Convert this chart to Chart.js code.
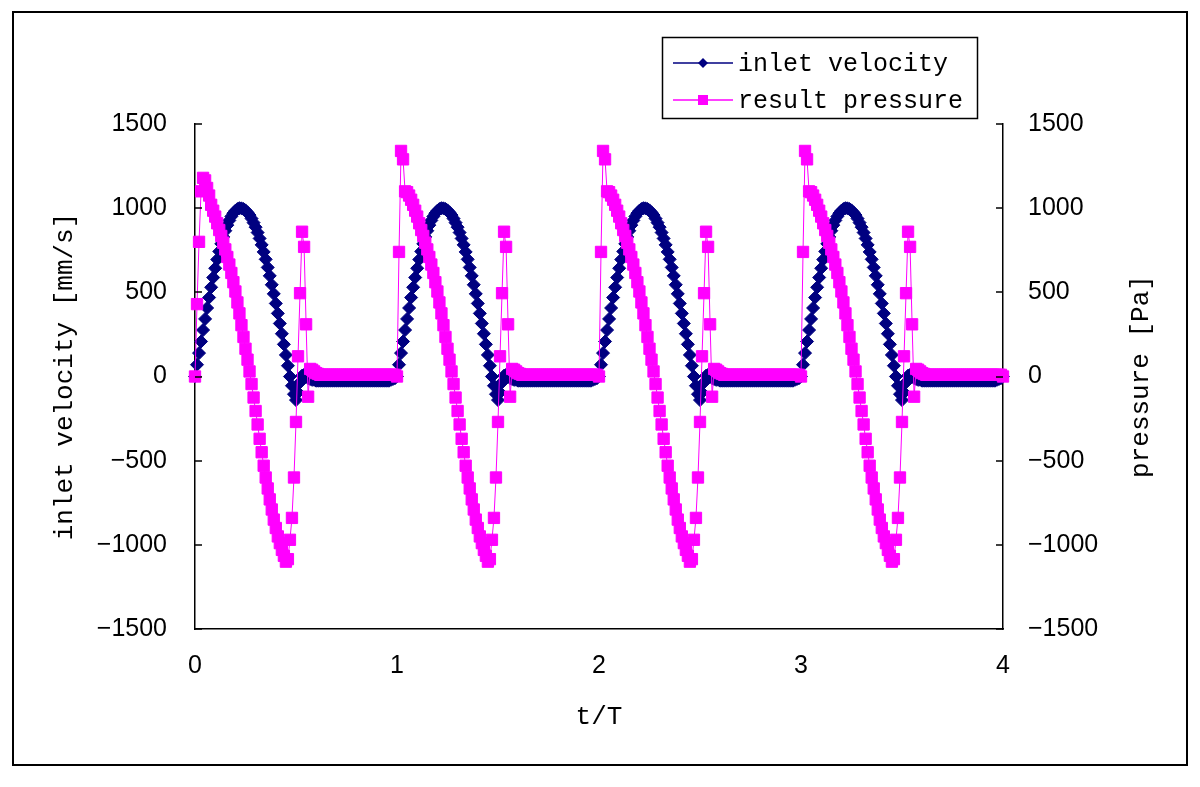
<!DOCTYPE html>
<html>
<head>
<meta charset="utf-8">
<script src="https://cdn.jsdelivr.net/npm/chart.js@4.4.0/dist/chart.umd.min.js"></script>
<style>
  html,body{margin:0;padding:0;background:#fff;}
  #wrap{width:1200px;height:787px;}
</style>
</head>
<body>
<div id="wrap"><canvas id="chart" width="1200" height="787"></canvas></div>
<script>
// === data: one period (step 0.01 t/T) ===
const periods = [0,1,2,3];
const step = 0.01;
const tickX = [0,1,2,3,4];
const tickLabelsX = ['0','1','2','3','4'];
const tickY = [-1500,-1000,-500,0,500,1000,1500];
const tickLabelsY = ['\u22121500','\u22121000','\u2212500','0','500','1000','1500'];

const velocityCycle = [
  0,70,139,208,276,342,407,469,530,588,
  643,695,743,788,829,866,899,927,951,970,
  985,995,1000,999,995,987,975,959,938,914,
  887,855,820,782,740,696,648,598,545,491,
  434,375,315,254,191,128,64,0,-55,-105,
  -140,-95,-35,5,10,0,-10,-15,-20,-20,
  -25,-25,-25,-25,-25,-25,-25,-25,-25,-25,
  -25,-25,-25,-25,-25,-25,-25,-25,-25,-25,
  -25,-25,-25,-25,-25,-25,-25,-25,-25,-25,
  -25,-25,-25,-25,-25,-25,-25,-20,-15,-10
];
const pressureCycle = [
  0,740,1340,1290,1100,1095,1075,1050,1020,985,
  950,910,870,835,795,755,710,665,615,560,
  505,440,375,305,235,165,100,30,-45,-125,
  -205,-285,-370,-450,-530,-600,-665,-730,-790,-850,
  -900,-950,-990,-1030,-1065,-1100,-1085,-970,-840,-600,
  -270,120,495,860,770,310,-120,45,40,30,
  20,15,10,10,10,10,10,10,10,10,
  10,10,10,10,10,10,10,10,10,10,
  10,10,10,10,10,10,10,10,10,10,
  10,10,10,10,10,10,10,10,10,10
];
// first period starts lower (no 1340 spike)
const pressureFirstHead = [0,430,800,1100,1180,1165,1120,1075];
const velocityEnd = 0;
const pressureEnd = 0;

// === build points ===
function buildSeries(cycle, head, endVal){
  const pts=[];
  periods.forEach(p=>{
    const vals=(p===0&&head)?head.concat(cycle.slice(head.length)):cycle;
    vals.forEach((v,i)=>pts.push({x:+(p+i*step).toFixed(2),y:v}));
  });
  pts.push({x:periods.length,y:endVal});
  return pts;
}
const velocityPts=buildSeries(velocityCycle,null,velocityEnd);
const pressurePts=buildSeries(pressureCycle,pressureFirstHead,pressureEnd);

const NAVY='#000080', PINK='#ff00ff';
const tickFont={family:'"Liberation Sans", Arial, sans-serif',size:25};
const monoFont='"Liberation Mono", "DejaVu Sans Mono", monospace';

// === frame, inner ticks, right title, legend ===
const decor={
  id:'decor',
  beforeDraw(c){
    const ctx=c.ctx;
    ctx.save();
    ctx.fillStyle='#fff';ctx.fillRect(0,0,c.width,c.height);
    ctx.strokeStyle='#000';ctx.lineWidth=2;
    ctx.strokeRect(13,12,1174,753);
    ctx.restore();
  },
  afterDraw(c){
    const ctx=c.ctx,a=c.chartArea;
    ctx.save();
    ctx.strokeStyle='#000';ctx.lineWidth=1.5;
    const yl=c.scales.y,yr=c.scales.y1;
    tickY.forEach(v=>{
      const pl=Math.round(yl.getPixelForValue(v));
      ctx.beginPath();ctx.moveTo(a.left,pl);ctx.lineTo(a.left+7,pl);ctx.stroke();
      const pr=Math.round(yr.getPixelForValue(v));
      ctx.beginPath();ctx.moveTo(a.right-7,pr);ctx.lineTo(a.right,pr);ctx.stroke();
    });
    // right axis title, reads bottom-to-top
    ctx.fillStyle='#000';
    ctx.font='26px '+monoFont;
    ctx.textAlign='center';ctx.textBaseline='middle';
    ctx.save();
    ctx.translate(1141,(a.top+a.bottom)/2);ctx.rotate(-Math.PI/2);
    ctx.fillText('pressure [Pa]',0,0);
    ctx.restore();

    // legend
    ctx.lineWidth=1.5;ctx.strokeStyle='#000';
    ctx.strokeRect(662.5,37.5,315,81);
    ctx.font='25px '+monoFont;ctx.textAlign='left';
    const rows=[{y:63,col:NAVY,style:'rectRot'},{y:100,col:PINK,style:'rect'}];
    c.data.datasets.forEach((ds,i)=>{
      const r=rows[i];
      ctx.strokeStyle=r.col;ctx.fillStyle=r.col;ctx.lineWidth=1.5;
      ctx.beginPath();ctx.moveTo(673,r.y);ctx.lineTo(733,r.y);ctx.stroke();
      ctx.beginPath();
      if(r.style==='rectRot'){
        ctx.moveTo(703,r.y-5);ctx.lineTo(708,r.y);ctx.lineTo(703,r.y+5);ctx.lineTo(698,r.y);ctx.closePath();
      }else{
        ctx.rect(698,r.y-5,10,10);
      }
      ctx.fill();
      ctx.fillStyle='#000';
      ctx.fillText(ds.label,738,r.y+1);
    });
    ctx.restore();
  }
};

new Chart(document.getElementById('chart'),{
  type:'line',
  data:{datasets:[
    {label:'inlet velocity',data:velocityPts,yAxisID:'y',borderColor:NAVY,backgroundColor:NAVY,
     borderWidth:1,pointStyle:'rectRot',pointRadius:6.5,pointBorderWidth:1,tension:0,clip:false,order:1},
    {label:'result pressure',data:pressurePts,yAxisID:'y1',borderColor:PINK,backgroundColor:PINK,
     borderWidth:1,pointStyle:'rect',pointRadius:8,pointBorderWidth:1,tension:0,clip:false,order:0}
  ]},
  options:{
    responsive:false,animation:false,devicePixelRatio:1,
    layout:{padding:{top:124,left:0,right:0,bottom:0}},
    plugins:{legend:{display:false},tooltip:{enabled:false}},
    scales:{
      x:{type:'linear',min:0,max:4,
        afterBuildTicks(s){s.ticks=tickX.map(v=>({value:v}));},
        afterFit(s){s.height=158;},
        grid:{display:true,drawOnChartArea:false,drawTicks:false},
        border:{display:true,color:'#000',width:1.5},
        ticks:{color:'#000',font:tickFont,padding:22,maxRotation:0,
          callback:v=>tickLabelsX[tickX.indexOf(v)]},
        title:{display:true,text:'t/T',color:'#000',font:{family:monoFont,size:26},padding:{top:0,bottom:54}}},
      y:{type:'linear',position:'left',min:-1500,max:1500,
        afterBuildTicks(s){s.ticks=tickY.map(v=>({value:v}));},
        afterFit(s){s.width=195;},
        grid:{display:true,drawOnChartArea:false,drawTicks:false},
        border:{display:true,color:'#000',width:1.5},
        ticks:{color:'#000',font:tickFont,padding:28,
          callback:v=>tickLabelsY[tickY.indexOf(v)]},
        title:{display:true,text:'inlet velocity [mm/s]',color:'#000',font:{family:monoFont,size:26},padding:{top:50,bottom:0}}},
      y1:{type:'linear',position:'right',min:-1500,max:1500,
        afterBuildTicks(s){s.ticks=tickY.map(v=>({value:v}));},
        afterFit(s){s.width=197;},
        grid:{display:true,drawOnChartArea:false,drawTicks:false},
        border:{display:true,color:'#000',width:1.5},
        ticks:{color:'#000',font:tickFont,padding:25,
          callback:v=>tickLabelsY[tickY.indexOf(v)]}}
    }
  },
  plugins:[decor]
});
</script>
</body>
</html>
